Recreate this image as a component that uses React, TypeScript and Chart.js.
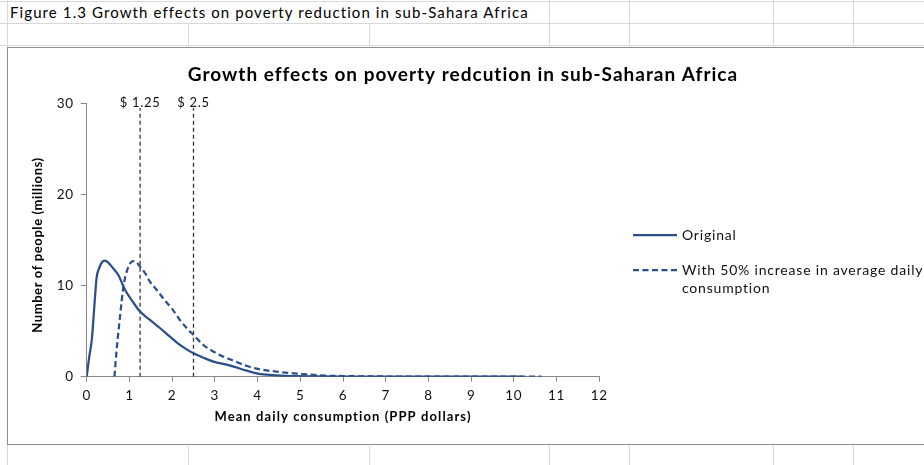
import React, { useEffect, useRef } from "react";
import { Chart, registerables } from "chart.js";

Chart.register(...registerables);

const figureCaption = "Figure 1.3 Growth effects on poverty reduction in sub-Sahara Africa";
const chartTitle = "Growth effects on poverty redcution in sub-Saharan Africa";
const xTitle = "Mean daily consumption (PPP dollars)";
const yTitle = "Number of people (millions)";
const seriesNames = ["Original", "With 50% increase in average daily consumption"];
const legendLines = [["Original"], ["With 50% increase in average daily", "consumption"]];

const originalX = [0, 0.06, 0.12, 0.18, 0.23, 0.3, 0.36, 0.43, 0.51, 0.62, 0.74, 0.9, 1.05, 1.25, 1.48, 1.72, 1.95, 2.15, 2.34, 2.5, 2.73, 2.97, 3.2, 3.44, 3.75, 3.98, 4.21, 4.53, 4.84, 5.5, 6, 7, 8, 9, 10, 10.2];
const originalY = [0, 2.2, 4.1, 7.8, 10.8, 12.0, 12.6, 12.75, 12.5, 11.9, 11.17, 9.52, 8.43, 7.15, 6.23, 5.32, 4.4, 3.6, 3.0, 2.57, 2.09, 1.65, 1.4, 1.1, 0.66, 0.37, 0.22, 0.11, 0.07, 0.03, 0.01, 0, 0, 0, 0, 0];

const increasedX = [0.65, 0.7, 0.78, 0.86, 0.94, 1.03, 1.09, 1.17, 1.25, 1.37, 1.48, 1.64, 1.79, 1.99, 2.18, 2.38, 2.5, 2.73, 2.97, 3.2, 3.44, 3.75, 4.06, 4.45, 4.84, 5.23, 5.62, 6.01, 7, 8, 9, 10, 10.65];
const increasedY = [0, 2.93, 6.6, 9.9, 11.6, 12.53, 12.7, 12.53, 12.09, 11.36, 10.44, 9.52, 8.61, 7.51, 6.23, 5.13, 4.58, 3.48, 2.75, 2.2, 1.76, 1.17, 0.81, 0.55, 0.37, 0.22, 0.11, 0.07, 0.02, 0, 0, 0, 0];

const povertyLines = [1.25, 2.5];
const povertyLabels = ["$ 1.25", "$ 2.5"];
const povertyLineTop = 29.5;

const xMin = 0;
const xMax = 12;
const xStep = 1;
const yMin = 0;
const yMax = 30;
const yStep = 10;

const NAVY = "#2a4f8a";
const FONT = "Lato, 'Open Sans', sans-serif";

const overlayPlugin = {
  id: "overlay",
  beforeDraw(chart: any) {
    (chart.ctx as any).letterSpacing = "0.7px";
  },
  afterDraw(chart: any) {
    const ctx = chart.ctx;
    const xs = chart.scales.x;
    const ys = chart.scales.y;
    const area = chart.chartArea;
    ctx.save();
    ctx.fillStyle = "#000";
    ctx.textAlign = "center";
    ctx.textBaseline = "middle";
    ctx.letterSpacing = "1px";
    ctx.font = `bold 19px ${FONT}`;
    ctx.fillText(chartTitle, 455, 27);

    // axis titles
    ctx.font = `bold 13px ${FONT}`;
    ctx.letterSpacing = "1.1px";
    ctx.fillText(xTitle, (area.left + area.right) / 2, 369);
    ctx.save();
    ctx.translate(29.5, 197);
    ctx.rotate(-Math.PI / 2);
    ctx.letterSpacing = "0.6px";
    ctx.fillText(yTitle, 0, 0);
    ctx.restore();

    ctx.font = `13px ${FONT}`;
    ctx.letterSpacing = "0.7px";
    ctx.fillStyle = "#111";
    povertyLines.forEach((v, i) => {
      ctx.fillText(povertyLabels[i], xs.getPixelForValue(v), ys.getPixelForValue(yMax) - 1);
    });

    // legend
    ctx.textAlign = "left";
    const rows = [187, 222];
    const ds = chart.data.datasets;
    rows.forEach((ry, i) => {
      ctx.save();
      ctx.strokeStyle = ds[i].borderColor;
      ctx.lineWidth = 2.25;
      ctx.setLineDash(ds[i].borderDash || []);
      ctx.beginPath();
      ctx.moveTo(625, ry);
      ctx.lineTo(669, ry);
      ctx.stroke();
      ctx.restore();
      ctx.fillStyle = "#111";
      ctx.font = `14px ${FONT}`;
      ctx.letterSpacing = "0.8px";
      legendLines[i].forEach((t, j) => ctx.fillText(t, 674, ry + j * 18));
    });
    ctx.restore();
  },
};

function ChartCanvas() {
  const ref = useRef<HTMLCanvasElement | null>(null);
  useEffect(() => {
    if (!ref.current) return;
    const datasets: any[] = [
      {
        label: seriesNames[0],
        data: originalX.map((v, i) => ({ x: v, y: originalY[i] })),
        borderColor: NAVY,
        borderWidth: 2.25,
        pointRadius: 0,
        showLine: true,
        cubicInterpolationMode: "monotone",
      },
      {
        label: seriesNames[1],
        data: increasedX.map((v, i) => ({ x: v, y: increasedY[i] })),
        borderColor: NAVY,
        borderWidth: 2.25,
        borderDash: [6, 3.5],
        pointRadius: 0,
        showLine: true,
        cubicInterpolationMode: "monotone",
      },
      ...povertyLines.map((v, i) => ({
        label: povertyLabels[i],
        data: [
          { x: v, y: yMin },
          { x: v, y: povertyLineTop },
        ],
        borderColor: "#333",
        borderWidth: 1.3,
        borderDash: [4, 3],
        pointRadius: 0,
        showLine: true,
      })),
    ];
    const chart = new Chart(ref.current, {
      type: "scatter",
      data: { datasets },
      plugins: [overlayPlugin],
      options: {
        animation: false,
        responsive: false,
        events: [],
        layout: { padding: { left: 0, top: 55.5, right: 324.7, bottom: 8.3 } },
        plugins: { legend: { display: false }, tooltip: { enabled: false }, title: { display: false } },
        scales: {
          x: {
            type: "linear",
            min: xMin,
            max: xMax,
            afterFit: (s: any) => {
              s.height = 60;
            },
            ticks: { stepSize: xStep, color: "#111", font: { family: FONT, size: 13.5 }, padding: 6, maxRotation: 0 },
            grid: { drawOnChartArea: false, color: "#868686", tickLength: 5 },
            border: { color: "#868686", width: 1 },
            title: { display: false, text: xTitle },
          },
          y: {
            type: "linear",
            min: yMin,
            max: yMax,
            afterFit: (s: any) => {
              s.width = 78.7;
            },
            ticks: { stepSize: yStep, color: "#111", font: { family: FONT, size: 13.5 }, padding: 7 },
            grid: { drawOnChartArea: false, color: "#868686", tickLength: 6 },
            border: { color: "#868686", width: 1 },
            title: { display: false, text: yTitle },
          },
        },
      } as any,
    });
    return () => chart.destroy();
  }, []);
  return <canvas ref={ref} width={916} height={397} style={{ position: "absolute", left: 0, top: 0, width: 916, height: 397 }} />;
}

const GRID = "#d8d8d8";

function VLine({ x, y1, y2 }: { x: number; y1: number; y2: number }) {
  return <div style={{ position: "absolute", left: x, top: y1, width: 1, height: y2 - y1, background: GRID }} />;
}
function HLine({ y, x1, x2 }: { y: number; x1: number; x2: number }) {
  return <div style={{ position: "absolute", left: x1, top: y, width: x2 - x1, height: 1, background: GRID }} />;
}

export default function App() {
  const upperCols = [549, 629, 773, 853];
  const row2Cols = [188, 369, 549, 629, 773, 853];
  return (
    <div style={{ position: "fixed", left: 0, top: 0, width: 924, height: 465, overflow: "hidden", background: "#fff" }}>
      <HLine y={1} x1={0} x2={924} />
      <HLine y={23} x1={0} x2={924} />
      <HLine y={45} x1={0} x2={924} />
      <VLine x={7} y1={0} y2={465} />
      {upperCols.map((x) => (
        <VLine key={"u" + x} x={x} y1={0} y2={46} />
      ))}
      {row2Cols.map((x) => (
        <VLine key={"r" + x} x={x} y1={23} y2={46} />
      ))}
      {row2Cols.map((x) => (
        <VLine key={"b" + x} x={x} y1={446} y2={465} />
      ))}
      <div
        style={{
          position: "absolute",
          left: 10,
          top: 2,
          height: 21,
          lineHeight: "21px",
          fontFamily: FONT,
          fontSize: 15,
          letterSpacing: "1.1px",
          color: "#000",
          whiteSpace: "nowrap",
        }}
      >
        {figureCaption}
      </div>
      <div
        style={{
          position: "absolute",
          left: 7,
          top: 47,
          width: 940,
          height: 398,
          border: "1px solid #8e8e8e",
          background: "#fff",
          boxSizing: "border-box",
        }}
      />
      <div style={{ position: "absolute", left: 8, top: 48, width: 916, height: 397 }}>
        <ChartCanvas />
      </div>
    </div>
  );
}
